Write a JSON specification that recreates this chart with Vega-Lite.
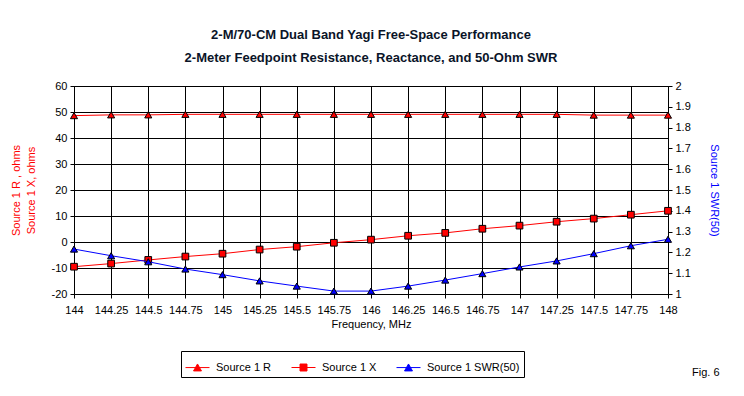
{
  "$schema": "https://vega.github.io/schema/vega-lite/v6.json",
  "autosize": "none",
  "width": 594,
  "height": 208,
  "padding": {"left": 74, "top": 86, "right": 76, "bottom": 102},
  "background": "white",
  "config": {
    "font": "Liberation Sans",
    "view": {"stroke": "black", "strokeWidth": 1},
    "axis": {
      "labelFont": "Liberation Sans", "labelFontSize": 11, "labelColor": "black",
      "titleFont": "Liberation Sans", "titleFontSize": 11, "titleFontWeight": "normal",
      "domainColor": "black", "tickColor": "black", "tickSize": 4,
      "gridColor": "black", "gridOpacity": 1, "gridWidth": 1
    }
  },
  "title": {
    "text": ["2-M/70-CM Dual Band Yagi Free-Space Performance", "2-Meter Feedpoint Resistance, Reactance, and 50-Ohm SWR"],
    "font": "Liberation Sans", "fontSize": 13, "fontWeight": "bold", "color": "#0a1428",
    "lineHeight": 23, "anchor": "middle", "offset": 15
  },
  "datasets": {
    "d": [
      {"f": 144, "series": "Source 1 R", "v": 48.6},
      {"f": 144.25, "series": "Source 1 R", "v": 48.9},
      {"f": 144.5, "series": "Source 1 R", "v": 48.9},
      {"f": 144.75, "series": "Source 1 R", "v": 49.1},
      {"f": 145, "series": "Source 1 R", "v": 49.1},
      {"f": 145.25, "series": "Source 1 R", "v": 49.1},
      {"f": 145.5, "series": "Source 1 R", "v": 49.1},
      {"f": 145.75, "series": "Source 1 R", "v": 49.1},
      {"f": 146, "series": "Source 1 R", "v": 49.1},
      {"f": 146.25, "series": "Source 1 R", "v": 49.1},
      {"f": 146.5, "series": "Source 1 R", "v": 49.1},
      {"f": 146.75, "series": "Source 1 R", "v": 49.1},
      {"f": 147, "series": "Source 1 R", "v": 49.1},
      {"f": 147.25, "series": "Source 1 R", "v": 49.1},
      {"f": 147.5, "series": "Source 1 R", "v": 48.8},
      {"f": 147.75, "series": "Source 1 R", "v": 48.8},
      {"f": 148, "series": "Source 1 R", "v": 48.8},
      {"f": 144, "series": "Source 1 X", "v": -9.5},
      {"f": 144.25, "series": "Source 1 X", "v": -8.3},
      {"f": 144.5, "series": "Source 1 X", "v": -6.9},
      {"f": 144.75, "series": "Source 1 X", "v": -5.6},
      {"f": 145, "series": "Source 1 X", "v": -4.5},
      {"f": 145.25, "series": "Source 1 X", "v": -2.9},
      {"f": 145.5, "series": "Source 1 X", "v": -1.8},
      {"f": 145.75, "series": "Source 1 X", "v": -0.3},
      {"f": 146, "series": "Source 1 X", "v": 0.9},
      {"f": 146.25, "series": "Source 1 X", "v": 2.4},
      {"f": 146.5, "series": "Source 1 X", "v": 3.5},
      {"f": 146.75, "series": "Source 1 X", "v": 5.1},
      {"f": 147, "series": "Source 1 X", "v": 6.3},
      {"f": 147.25, "series": "Source 1 X", "v": 7.8},
      {"f": 147.5, "series": "Source 1 X", "v": 9.0},
      {"f": 147.75, "series": "Source 1 X", "v": 10.5},
      {"f": 148, "series": "Source 1 X", "v": 12.0},
      {"f": 144, "series": "Source 1 SWR(50)", "v": 1.216},
      {"f": 144.25, "series": "Source 1 SWR(50)", "v": 1.184},
      {"f": 144.5, "series": "Source 1 SWR(50)", "v": 1.155},
      {"f": 144.75, "series": "Source 1 SWR(50)", "v": 1.12},
      {"f": 145, "series": "Source 1 SWR(50)", "v": 1.093},
      {"f": 145.25, "series": "Source 1 SWR(50)", "v": 1.063},
      {"f": 145.5, "series": "Source 1 SWR(50)", "v": 1.038},
      {"f": 145.75, "series": "Source 1 SWR(50)", "v": 1.014},
      {"f": 146, "series": "Source 1 SWR(50)", "v": 1.014},
      {"f": 146.25, "series": "Source 1 SWR(50)", "v": 1.038},
      {"f": 146.5, "series": "Source 1 SWR(50)", "v": 1.067},
      {"f": 146.75, "series": "Source 1 SWR(50)", "v": 1.098},
      {"f": 147, "series": "Source 1 SWR(50)", "v": 1.13},
      {"f": 147.25, "series": "Source 1 SWR(50)", "v": 1.159},
      {"f": 147.5, "series": "Source 1 SWR(50)", "v": 1.194},
      {"f": 147.75, "series": "Source 1 SWR(50)", "v": 1.232},
      {"f": 148, "series": "Source 1 SWR(50)", "v": 1.263}
    ],
    "note": [{"f": 148, "v": -20, "label": "Fig. 6"}]
  },
  "encoding": {
    "x": {
      "field": "f", "type": "quantitative",
      "scale": {"domain": [144, 148], "nice": false, "zero": false},
      "axis": {
        "values": [144, 144.25, 144.5, 144.75, 145, 145.25, 145.5, 145.75, 146, 146.25, 146.5, 146.75, 147, 147.25, 147.5, 147.75, 148],
        "labelExpr": "'' + datum.value", "labelPadding": 6, "labelFlush": false, "labelOverlap": false,
        "title": "Frequency, MHz", "titleFont": "Liberation Sans Narrow, Liberation Sans", "titlePadding": 3
      }
    }
  },
  "layer": [
    {
      "data": {"name": "d"},
      "transform": [{"filter": "datum.series !== 'Source 1 SWR(50)'"}],
      "encoding": {
        "y": {
          "field": "v", "type": "quantitative",
          "scale": {"domain": [-20, 60], "nice": false, "zero": false},
          "axis": {
            "orient": "left", "values": [-20, -10, 0, 10, 20, 30, 40, 50, 60], "labelExpr": "'' + datum.value",
            "labelPadding": 3,
            "title": ["Source 1 R , ohms", "Source 1 X, ohms"], "titleColor": "#ff0000",
            "titlePadding": 15, "titleLineHeight": 15
          }
        },
        "color": {
          "field": "series", "type": "nominal",
          "scale": {"domain": ["Source 1 R", "Source 1 X", "Source 1 SWR(50)"], "range": ["#ff0000", "#ff0000", "#0000ff"]},
          "legend": {
            "orient": "none", "legendX": 107, "legendY": 265, "direction": "horizontal", "title": null,
            "strokeColor": "black", "fillColor": "white", "padding": 4,
            "labelFont": "Liberation Sans", "labelFontSize": 11, "labelColor": "black",
            "symbolSize": 576, "columnPadding": 17, "labelOffset": 6,
            "encode": {
              "symbols": {
                "update": {
                  "shape": {"signal": "datum.value === 'Source 1 X' ? 'M-1,0H1M-0.29,-0.29H0.29V0.29H-0.29Z' : 'M-1,0H1M-0.33,0.28L0,-0.3L0.33,0.28Z'"},
                  "size": {"value": 576},
                  "fill": {"signal": "datum.value === 'Source 1 SWR(50)' ? '#0000ff' : '#ff0000'"},
                  "stroke": {"signal": "datum.value === 'Source 1 SWR(50)' ? '#0000ff' : '#ff0000'"},
                  "strokeWidth": {"value": 1},
                  "opacity": {"value": 1}
                }
              }
            }
          }
        }
      },
      "layer": [
        {"mark": {"type": "line", "strokeWidth": 1}},
        {
          "transform": [{"filter": "datum.series === 'Source 1 R'"}],
          "mark": {"type": "point", "shape": "triangle-up", "filled": true, "opacity": 1, "stroke": "black", "strokeWidth": 1, "size": 50}
        },
        {
          "transform": [{"filter": "datum.series === 'Source 1 X'"}],
          "mark": {"type": "point", "shape": "square", "filled": true, "opacity": 1, "stroke": "black", "strokeWidth": 1, "size": 45}
        }
      ]
    },
    {
      "data": {"name": "d"},
      "transform": [{"filter": "datum.series === 'Source 1 SWR(50)'"}],
      "encoding": {
        "y": {
          "field": "v", "type": "quantitative",
          "scale": {"domain": [1, 2], "nice": false, "zero": false},
          "axis": {
            "orient": "right", "values": [1, 1.1, 1.2, 1.3, 1.4, 1.5, 1.6, 1.7, 1.8, 1.9, 2], "labelExpr": "'' + datum.value",
            "grid": false, "labelPadding": 3,
            "title": "Source 1 SWR(50)", "titleColor": "#0000ff", "titlePadding": 18
          }
        },
        "color": {"field": "series", "type": "nominal"}
      },
      "layer": [
        {"mark": {"type": "line", "strokeWidth": 1}},
        {"mark": {"type": "point", "shape": "triangle-up", "filled": true, "opacity": 1, "stroke": "black", "strokeWidth": 1, "size": 50}}
      ]
    },
    {
      "data": {"name": "note"},
      "mark": {"type": "text", "align": "left", "baseline": "middle", "fontSize": 11, "font": "Liberation Sans", "fill": "black", "dx": 24, "dy": 79, "clip": false},
      "encoding": {
        "y": {"field": "v", "type": "quantitative", "scale": {"domain": [-20, 60], "nice": false, "zero": false}, "axis": null},
        "text": {"field": "label", "type": "nominal"}
      }
    }
  ],
  "resolve": {"scale": {"y": "independent"}}
}
